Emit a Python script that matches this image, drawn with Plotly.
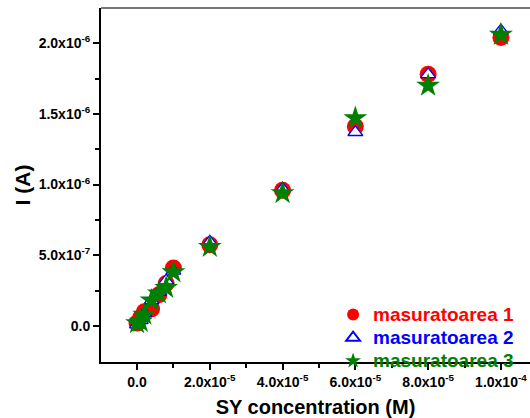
import plotly.graph_objects as go

conc = [0, 1e-6, 2e-6, 4e-6, 6e-6, 8e-6, 1e-5, 2e-5, 4e-5, 6e-5, 8e-5, 1e-4]
m1 = [2e-8, 6e-8, 1.0e-7, 1.2e-7, 2.2e-7, 3.0e-7, 4.1e-7, 5.75e-7, 9.6e-7, 1.41e-6, 1.78e-6, 2.04e-6]
m2 = [1e-8, 4e-8, 9e-8, 1.8e-7, 2.4e-7, 3.2e-7, 3.9e-7, 5.95e-7, 9.7e-7, 1.37e-6, 1.78e-6, 2.09e-6]
m3 = [2e-8, 3e-8, 8e-8, 1.8e-7, 2.3e-7, 2.7e-7, 3.8e-7, 5.6e-7, 9.4e-7, 1.47e-6, 1.70e-6, 2.06e-6]

names = ["masuratoarea 1", "masuratoarea 2", "masuratoarea 3"]
colors = ["#ff0000", "#0000ff", "#008000"]

xtickvals = [0, 2e-5, 4e-5, 6e-5, 8e-5, 1e-4]
xticktext = ["0.0", "2.0x10<sup>-5</sup>", "4.0x10<sup>-5</sup>", "6.0x10<sup>-5</sup>",
             "8.0x10<sup>-5</sup>", "1.0x10<sup>-4</sup>"]
ytickvals = [0, 5e-7, 1e-6, 1.5e-6, 2e-6]
yticktext = ["0.0", "5.0x10<sup>-7</sup>", "1.0x10<sup>-6</sup>", "1.5x10<sup>-6</sup>",
             "2.0x10<sup>-6</sup>"]

FAM = "Liberation Sans"

fig = go.Figure()
fig.add_trace(go.Scatter(x=conc, y=m1, mode="markers", name=names[0],
                         marker=dict(symbol="circle", size=17, color=colors[0])))
fig.add_trace(go.Scatter(x=conc, y=m2, mode="markers", name=names[1],
                         marker=dict(symbol="triangle-up", size=13, color="white",
                                     line=dict(width=1.3, color=colors[1]))))
fig.add_trace(go.Scatter(x=conc, y=m3, mode="markers", name=names[2],
                         marker=dict(symbol="star", size=18, color=colors[2],
                                     line=dict(width=0))))

font_ax = dict(family=FAM, size=14, color="black", weight="bold")

fig.update_layout(
    width=530, height=418,
    margin=dict(l=101, r=0, t=8, b=56),
    plot_bgcolor="white", paper_bgcolor="white",
    showlegend=True,
    legend=dict(x=0.541, y=0.181, xanchor="left", yanchor="top",
                bgcolor="rgba(0,0,0,0)", itemsizing="constant",
                font=dict(family=FAM, size=15.5, weight="bold"),
                tracegroupgap=0),
    xaxis=dict(range=[-0.99e-5, 10.8e-5], tickvals=xtickvals, ticktext=xticktext,
               showgrid=False, zeroline=False, showline=True, linecolor="black",
               linewidth=2, ticks="outside", ticklen=6, tickwidth=1.5, tickcolor="black",
               minor=dict(tickvals=[1e-5, 3e-5, 5e-5, 7e-5, 9e-5], ticks="outside",
                          ticklen=4, tickcolor="black", tickwidth=1.5),
               tickfont=font_ax,
               title=dict(text="SY concentration (M)", standoff=11,
                          font=dict(family=FAM, size=20, color="black", weight="bold"))),
    yaxis=dict(range=[-2.55e-7, 2.249e-6], tickvals=ytickvals, ticktext=yticktext,
               showgrid=False, zeroline=False, showline=True, linecolor="black",
               linewidth=2, ticks="outside", ticklen=6, tickwidth=1.5, tickcolor="black",
               minor=dict(tickvals=[2.5e-7, 7.5e-7, 1.25e-6, 1.75e-6], ticks="outside",
                          ticklen=4, tickcolor="black", tickwidth=1.5),
               tickfont=font_ax,
               title=dict(text="I (A)", standoff=2,
                          font=dict(family=FAM, size=21, color="black", weight="bold"))),
)

# legend text colored per series (larger glyphs, compact rows)
for tr, c in zip(fig.data, colors):
    tr.name = "<span style='color:%s;font-size:19px'>%s</span>" % (c, tr.name)

fig.add_shape(type="line", xref="paper", yref="paper", x0=0, x1=1, y0=1, y1=1,
              line=dict(color="#777777", width=2))

fig.write_html("out.html")
